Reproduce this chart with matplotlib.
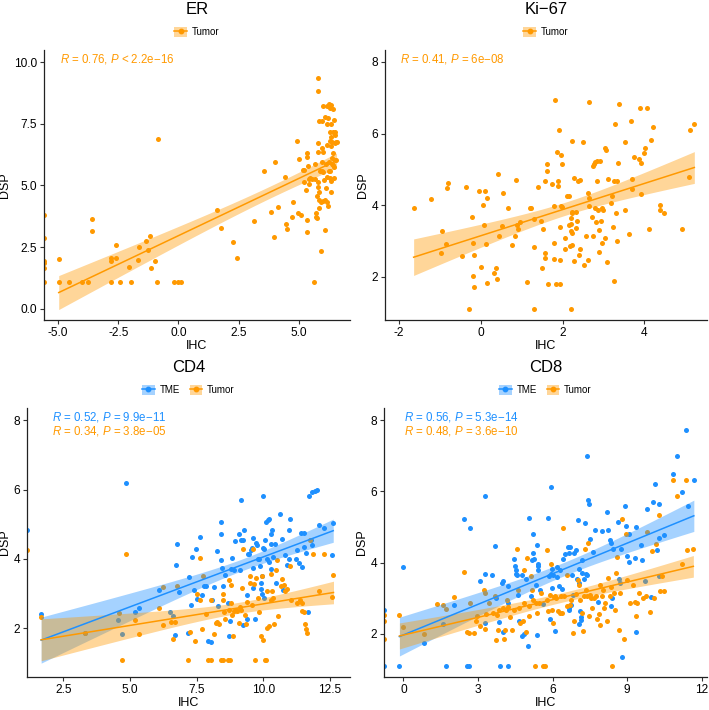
import numpy as np
import matplotlib as mpl
mpl.use('Agg')
import matplotlib.pyplot as plt
from matplotlib.patches import Patch
from matplotlib.lines import Line2D
from matplotlib.legend_handler import HandlerTuple

plt.rcParams['font.family'] = ['Liberation Sans', 'DejaVu Sans']
plt.rcParams['mathtext.fontset'] = 'custom'
plt.rcParams['mathtext.it'] = 'Liberation Sans:italic'
plt.rcParams['mathtext.rm'] = 'Liberation Sans'

ORANGE = '#FF9900'
BLUE = '#1E90FF'

# ---- ER (Tumor) ----
er_x = [-5.58, -5.58, -5.58, -5.58, -5.58, -5.58,
        -4.97, -4.97, -4.56, -4.00, -3.76, -3.58, -3.58, -2.79, -2.79, -2.79, -2.58, -2.58, -2.41, -2.07,
        -1.96, -1.68, -1.64, -1.35, -1.28, -1.17, -1.14, -0.98, -0.89, -0.85, -0.19, -0.01, 0.12, 1.60,
        1.75, 2.25, 2.44, 3.15, 3.55, 3.85, 3.96, 4.00, 4.11, 4.42, 4.46, 4.50, 4.71, 4.74, 4.90, 4.97,
        5.01, 5.07, 5.15, 5.22, 5.19, 5.28, 5.32, 5.32, 5.32, 5.35, 5.39, 5.40, 5.40, 5.46, 5.53, 5.62,
        5.65, 5.66, 5.72, 5.72, 5.74, 5.74, 5.77, 5.77, 5.79, 5.79, 5.79, 5.81, 5.83, 5.84, 5.84, 5.87,
        5.90, 5.91, 5.94, 5.94, 5.97, 5.98, 6.00, 6.01, 6.04, 6.07, 6.08, 6.09, 6.12, 6.12, 6.15, 6.16,
        6.16, 6.18, 6.18, 6.20, 6.22, 6.23, 6.24, 6.26, 6.27, 6.27, 6.28, 6.30, 6.31, 6.32, 6.32, 6.34,
        6.35, 6.35, 6.37, 6.38, 6.39, 6.41, 6.42, 6.42, 6.44, 6.45, 6.47, 6.48, 6.49, 6.49, 6.50, 6.52,
        6.53, 6.56, 5.94, 6.01, 5.84, 6.28, 6.42]
er_y = [3.81, 2.86, 1.94, 1.85, 1.67, 1.09,
        2.01, 1.09, 1.09, 1.09, 1.09, 3.66, 3.16, 2.05, 1.94, 1.09, 2.58, 2.05, 1.09, 1.70,
        1.09, 1.98, 2.50, 2.77, 2.40, 2.97, 1.67, 1.96, 1.09, 6.88, 1.09, 1.09, 1.09, 4.01,
        3.29, 2.71, 2.05, 3.56, 5.59, 3.91, 2.91, 5.94, 4.13, 5.33, 3.44, 3.25, 3.74, 4.35, 6.79, 3.87,
        6.09, 3.81, 5.63, 5.63, 5.13, 4.80, 6.30, 3.60, 3.10, 6.14, 5.79, 5.26, 5.05, 5.32, 5.25, 1.09,
        5.88, 5.25, 3.87, 3.74, 3.67, 4.57, 9.37, 8.83, 6.71, 6.34, 5.13, 4.95, 4.08, 7.61, 4.41, 5.60,
        2.36, 4.35, 7.61, 6.50, 5.59, 8.21, 4.37, 6.37, 5.22, 4.43, 7.79, 3.21, 4.91, 5.86, 6.64, 8.23,
        7.50, 4.32, 5.34, 4.17, 7.75, 5.96, 5.59, 8.30, 5.29, 6.81, 7.18, 8.15, 6.98, 7.48, 6.60, 4.75,
        8.26, 5.18, 6.10, 5.86, 6.77, 8.08, 6.30, 7.18, 5.32, 5.76, 7.65, 6.71, 6.03, 7.04, 7.18, 6.03,
        6.77, 6.77, 5.96, 5.56, 4.75, 5.59, 5.83]

# ---- Ki-67 (Tumor) ----
ki_x = [-1.64, -1.22, -0.95, -0.86, -0.97, -0.83, -0.81, -0.47, -0.36, -0.21, -0.18, -0.17, -0.18, -0.16,
        -0.29, -0.04, 0.00, 0.06, 0.07, 0.11, 0.13, 0.15, 0.16, 0.33, 0.37, 0.40, 0.42, 0.45, 0.52, 0.55,
        0.66, 0.77, 0.84, 0.87, 0.89, 0.90, 0.96, 1.13, 1.20, 1.22, 1.31, 1.31, 1.31, 1.39, 1.48, 1.49,
        1.51, 1.56, 1.57, 1.58, 1.61, 1.61, 1.64, 1.75, 1.80, 1.80, 1.80, 1.81, 1.84, 1.86, 1.88, 1.89,
        1.92, 1.93, 1.93, 1.94, 1.95, 1.96, 1.98, 1.99, 2.07, 2.07, 2.12, 2.16, 2.16, 2.18, 2.20, 2.20,
        2.21, 2.21, 2.22, 2.23, 2.23, 2.24, 2.24, 2.27, 2.29, 2.33, 2.34, 2.36, 2.37, 2.40, 2.42, 2.43,
        2.50, 2.53, 2.57, 2.61, 2.63, 2.65, 2.65, 2.65, 2.73, 2.75, 2.75, 2.78, 2.80, 2.80, 2.81, 2.84,
        2.85, 2.87, 2.89, 2.90, 2.91, 2.94, 2.96, 2.97, 2.99, 3.03, 3.04, 3.06, 3.08, 3.12, 3.18, 3.21,
        3.23, 3.25, 3.26, 3.27, 3.30, 3.32, 3.32, 3.36, 3.38, 3.53, 3.52, 3.62, 3.67, 3.70, 3.70, 3.74,
        3.87, 3.89, 3.91, 3.91, 3.99, 4.02, 4.07, 4.11, 4.16, 4.21, 4.38, 4.38, 4.47, 4.93, 5.09, 5.12,
        5.22]
ki_y = [3.91, 4.17, 3.27, 2.93, 2.67, 4.49, 4.63, 2.58, 4.52, 3.67, 2.96, 2.61, 2.04, 1.73,
        1.12, 4.40, 2.27, 4.01, 3.46, 4.39, 2.91, 1.84, 4.19, 2.12, 2.26, 1.93, 4.86, 3.14, 3.41, 4.33,
        3.91, 2.89, 3.14, 4.71, 3.45, 3.34, 3.53, 1.87, 3.92, 3.92, 2.83, 3.63, 1.12, 4.51, 3.57, 2.25,
        3.35, 2.68, 2.52, 4.69, 4.96, 5.16, 1.80, 4.59, 3.99, 2.94, 2.50, 6.93, 1.81, 5.48, 4.53, 4.68,
        6.11, 3.39, 2.47, 1.80, 3.97, 5.40, 3.94, 5.15, 3.10, 2.78, 4.26, 4.26, 3.45, 2.86, 3.29, 3.64,
        3.48, 1.12, 3.78, 3.82, 2.88, 5.79, 3.24, 2.45, 4.76, 3.82, 3.37, 3.57, 4.68, 2.60, 4.71, 2.79,
        5.77, 2.33, 3.13, 2.47, 4.33, 4.20, 3.97, 6.87, 3.66, 5.10, 3.13, 5.14, 3.91, 5.21, 3.53, 4.68,
        5.23, 3.87, 3.32, 2.70, 5.24, 3.56, 3.91, 2.95, 3.87, 3.08, 5.59, 5.53, 2.42, 4.73, 4.07, 4.27,
        3.40, 4.67, 1.90, 6.27, 3.77, 4.69, 2.99, 5.19, 6.83, 3.87, 5.76, 3.19, 6.35, 4.45, 4.73, 5.35,
        5.30, 6.72, 4.32, 5.19, 5.47, 5.61, 6.70, 3.35, 5.81, 6.17, 4.01, 3.88, 3.79, 3.35, 4.78, 6.10,
        6.27]

# ---- CD4 ----
cd4_tme_x = [1.14, 1.67, 3.31, 4.56, 4.71, 4.86, 5.17, 5.32, 6.09, 6.51, 6.63, 6.67, 6.74, 6.77, 6.83,
             7.19, 7.21, 7.27, 7.33, 7.41, 7.48, 7.50, 7.62, 7.69, 7.76, 7.85, 7.92, 8.02, 8.06, 8.15,
             8.27, 8.29, 8.40, 8.43, 8.43, 8.44, 8.47, 8.56, 8.66, 8.72, 8.74, 8.79, 8.83, 8.90, 8.94,
             9.08, 9.13, 9.15, 9.18, 9.22, 9.25, 9.27, 9.37, 9.40, 9.43, 9.46, 9.52, 9.57, 9.62, 9.62,
             9.63, 9.70, 9.73, 9.76, 9.81, 9.85, 9.88, 9.90, 9.93, 9.94, 9.94, 9.97, 9.99, 10.01, 10.03,
             10.08, 10.11, 10.14, 10.16, 10.20, 10.23, 10.28, 10.30, 10.30, 10.33, 10.37, 10.45, 10.47,
             10.61, 10.71, 10.72, 10.81, 10.87, 10.97, 10.97, 11.00, 11.22, 11.27, 11.35, 11.43, 11.46,
             11.51, 11.53, 11.59, 11.66, 11.73, 11.77, 11.83, 11.92, 12.00, 12.10, 12.26, 12.57, 12.62,
             11.82]
cd4_tme_y = [4.83, 2.41, 1.87, 2.25, 1.85, 6.18, 2.47, 2.58, 3.11, 2.46, 2.36, 1.82, 3.83, 4.44, 3.05,
             1.88, 3.47, 2.66, 4.07, 3.11, 4.29, 2.84, 4.63, 2.95, 3.21, 3.23, 1.65, 1.62, 2.83, 3.18,
             4.24, 2.64, 3.98, 5.06, 4.71, 3.73, 3.21, 3.55, 2.74, 1.77, 2.22, 3.72, 4.02, 3.67, 4.53,
             4.72, 3.67, 5.70, 4.56, 4.56, 2.09, 4.84, 2.95, 2.27, 4.14, 4.15, 4.26, 4.32, 3.16, 4.61,
             3.75, 2.27, 4.45, 4.40, 4.00, 4.00, 3.80, 3.31, 3.14, 3.50, 3.00, 5.81, 4.31, 2.88, 4.28,
             4.55, 5.07, 3.99, 5.11, 3.92, 5.15, 4.73, 4.44, 3.71, 4.84, 4.06, 4.43, 3.32,
             5.29, 4.57, 3.12, 4.12, 3.83, 3.99, 4.83, 5.15, 3.99, 4.26, 3.88, 4.75, 3.77,
             4.34, 4.76, 4.17, 2.47, 5.81, 4.56, 5.94, 5.97, 5.98, 4.98, 4.90, 4.10, 5.05,
             4.40]
cd4_tum_x = [1.14, 1.67, 3.31, 4.71, 4.86, 4.58, 5.18, 5.32, 6.09, 6.25, 6.25, 6.53, 6.63, 6.67, 6.78,
             7.19, 7.25, 7.45, 7.51, 7.63, 7.70, 7.74, 7.85, 7.92, 8.02, 8.03, 8.15, 8.21, 8.26, 8.34,
             8.41, 8.49, 8.47, 8.53, 8.58, 8.66, 8.70, 8.74, 8.79, 8.80, 8.84, 8.88, 8.90, 8.97, 9.03,
             9.08, 9.13, 9.16, 9.23, 9.30, 9.35, 9.40, 9.49, 9.51, 9.56, 9.60, 9.65, 9.67, 9.72, 9.80,
             9.85, 9.90, 9.96, 10.00, 10.05, 10.09, 10.13, 10.15, 10.20, 10.28, 10.30, 10.33, 10.37,
             10.40, 10.47, 10.54, 10.65, 10.71, 10.77, 10.81, 10.90, 11.01, 11.02, 11.26, 11.37, 11.44,
             11.51, 11.57, 11.60, 11.64, 11.75, 11.87, 12.10, 12.26, 12.57, 12.63, 11.45, 10.50, 9.20,
             8.70, 7.64, 8.47]
cd4_tum_y = [4.26, 2.32, 1.87, 1.09, 4.15, 2.43, 2.24, 1.85, 2.59, 3.20, 2.11, 2.19, 1.70, 2.18, 3.21,
             1.09, 1.91, 1.65, 2.98, 4.02, 1.99, 3.50, 2.42, 1.09, 1.09, 2.81, 1.85, 2.16, 2.19, 2.12,
             1.09, 1.09, 2.98, 2.46, 2.27, 1.09, 2.54, 1.09, 3.26, 2.74, 2.40, 1.79, 2.49, 2.52, 2.50,
             2.16, 2.61, 2.53, 4.28, 2.40, 2.14, 2.75, 3.32, 3.50, 2.66, 4.28, 3.27, 1.09, 3.46, 2.88,
             2.46, 1.77, 3.52, 1.66, 1.09, 1.09, 2.00, 3.07, 2.08, 3.57, 2.82, 3.07, 2.88,
             2.12, 3.69, 2.37, 3.21, 3.43, 3.24, 3.09, 3.13, 3.79, 2.83, 2.73, 2.82, 2.50,
             2.47, 2.12, 1.99, 1.88, 4.54, 4.14, 3.07, 4.14, 2.91, 3.55, 2.73, 3.96, 3.16,
             3.38, 2.81, 2.83]

# ---- CD8 ----
cd8_tme_x = [-0.78, -0.78, -0.16, -0.01, 0.82, 1.58, 1.72, 2.04, 2.57, 2.63, 2.45, 2.69, 3.07, 3.27, 3.30,
             3.28, 3.55, 3.69, 3.73, 3.88, 3.85, 3.97, 4.02, 4.00, 4.20, 4.22, 4.22, 4.44, 4.49, 4.52,
             4.53, 4.57, 4.61, 4.66, 4.75, 4.77, 4.85, 4.94, 5.01, 5.05, 5.13, 5.16, 5.20, 5.23, 5.27,
             5.34, 5.38, 5.40, 5.42, 5.39, 5.42, 5.48, 5.63, 5.82, 5.86, 5.88, 5.93, 5.94, 5.97, 5.98,
             6.02, 6.10, 6.17, 6.19, 6.26, 6.30, 6.36, 6.43, 6.50, 6.60, 6.64, 6.65, 6.66, 6.72, 6.74,
             6.80, 6.84, 6.86, 6.93, 6.97, 7.01, 7.06, 7.08, 7.13, 7.15, 7.17, 7.18, 7.28, 7.32, 7.36,
             7.37, 7.40, 7.44, 7.45, 7.51, 7.64, 7.69, 7.84, 7.99, 8.18, 8.24, 8.30, 8.35, 8.36, 8.38,
             8.41, 8.62, 8.66, 8.71, 8.74, 8.78, 8.93, 8.94, 8.98, 9.08, 9.09, 9.32, 9.34, 9.37, 9.56,
             9.58, 9.72, 9.80, 9.95, 10.04, 10.13, 10.20, 10.28, 10.27, 10.29, 10.50, 10.86, 10.99, 11.19,
             11.37, 11.45, 11.68, 7.08, 7.10]
cd8_tme_y = [2.66, 1.09, 1.09, 3.89, 1.73, 2.29, 1.09, 2.80, 1.09, 1.09, 5.21, 4.96, 3.48, 3.67, 5.86,
             2.31, 3.66, 4.48, 3.01, 1.09, 2.34, 3.44, 2.04, 3.48, 3.34, 1.09, 2.87, 4.11, 3.91, 3.68,
             3.78, 3.66, 3.09, 2.36, 1.95, 3.66, 1.99, 3.55, 1.65, 5.26, 3.05, 4.06, 4.79, 4.27, 4.09,
             3.38, 4.50, 3.90, 3.96, 1.96, 3.79, 3.24, 2.83, 5.25, 3.63, 2.43, 6.12, 3.67, 3.81, 3.28,
             3.65, 2.09, 3.87, 3.59, 3.35, 3.79, 3.27, 4.10, 4.25, 4.43, 2.72, 2.68, 4.26, 4.44, 2.81,
             3.66, 3.08, 4.27, 4.35, 3.55, 5.19, 3.81, 2.28, 2.48, 2.38, 4.08, 3.72, 3.55, 5.11, 3.69,
             6.98, 3.66, 5.75, 5.64, 4.65, 4.30, 4.92, 2.90, 4.89, 5.42, 4.92, 4.64, 4.55, 2.79, 3.00,
             4.39, 5.15, 3.54, 3.43, 4.38, 1.36, 5.60, 5.02, 4.18, 4.02, 4.79, 4.13, 2.04, 5.00, 4.50,
             4.07, 3.47, 5.50, 3.04, 5.69, 6.22, 4.35, 5.65, 4.69, 3.62, 4.78, 6.49, 6.98, 5.99,
             7.72, 5.58, 6.31, 3.42, 2.64]
cd8_tum_x = [-0.78, -0.78, -0.78, -0.16, -0.01, 0.82, 1.34, 1.61, 1.73, 2.04, 2.45, 2.57, 2.63, 2.69, 2.84,
             2.94, 2.98, 3.10, 3.26, 3.28, 3.30, 3.32, 3.46, 3.59, 3.69, 3.71, 3.75, 3.81, 3.86, 4.00,
             4.03, 4.08, 4.13, 4.18, 4.22, 4.29, 4.38, 4.45, 4.56, 4.60, 4.64, 4.69, 4.79, 4.84, 4.85,
             4.92, 4.99, 5.04, 5.07, 5.13, 5.19, 5.23, 5.29, 5.32, 5.36, 5.47, 5.54, 5.63, 5.70, 5.76,
             5.79, 5.83, 5.90, 5.94, 5.98, 6.01, 6.05, 6.09, 6.14, 6.23, 6.30, 6.34, 6.38, 6.43, 6.46,
             6.58, 6.69, 6.74, 6.82, 6.88, 6.96, 7.01, 7.06, 7.12, 7.18, 7.23, 7.25, 7.31, 7.33, 7.37,
             7.44, 7.47, 7.51, 7.55, 7.60, 7.65, 7.73, 7.80, 7.86, 7.91, 7.98, 8.04, 8.08, 8.12, 8.19,
             8.24, 8.30, 8.34, 8.40, 8.45, 8.50, 8.54, 8.60, 8.66, 8.71, 8.81, 8.86, 8.94, 9.01, 9.11,
             9.22, 9.32, 9.38, 9.36, 9.49, 9.62, 9.75, 9.81, 9.92, 10.01, 10.08, 10.16, 10.28, 10.32,
             10.39, 10.50, 10.86, 11.01, 11.21, 11.37, 11.42, 11.66, 6.57, 7.91]
cd8_tum_y = [2.52, 2.36, 1.87, 2.52, 2.20, 2.01, 2.84, 2.81, 2.71, 3.04, 3.74, 2.05, 2.02, 2.87, 2.03,
             2.36, 2.50, 2.21, 3.24, 3.15, 2.15, 2.57, 2.87, 2.59, 3.06, 1.82, 2.54, 2.12, 2.68, 2.74,
             1.87, 2.12, 2.68, 2.96, 2.76, 2.48, 2.12, 2.66, 4.39, 3.22, 2.73, 2.31, 2.36, 2.87, 3.78,
             2.06, 4.13, 2.78, 2.50, 3.62, 3.24, 2.96, 1.09, 2.87, 2.59, 2.87, 3.15, 1.09, 1.09, 2.94,
             4.36, 2.64, 3.10, 3.95, 2.68, 2.31, 3.03, 3.07, 3.01, 2.64, 2.59, 3.06, 2.59, 4.96, 3.05,
             3.64, 2.81, 2.95, 2.03, 2.37, 3.11, 3.51, 3.36, 2.96, 2.59, 2.07, 3.07, 4.38, 3.24, 3.06,
             4.55, 2.51, 3.10, 3.01, 2.73, 3.01, 3.07, 2.42, 2.57, 2.25, 3.07, 3.24, 2.73, 2.87, 2.36,
             3.57, 3.07, 3.31, 1.09, 3.15, 2.68, 3.71, 4.15, 2.12, 3.15, 5.22, 1.86, 4.81, 3.50, 2.87,
             3.38, 2.90, 2.87, 2.49, 3.15, 3.01, 3.06, 4.85, 2.61, 4.32, 3.02, 4.52, 5.35, 3.20,
             3.62, 3.20, 6.33, 5.86, 3.97, 6.33, 4.35, 4.39, 2.78, 3.38]

T_CRIT = 1.98  # ~t(0.975) for n around 100-150


def add_fit(ax, x, y, color, xlo):
    x = np.asarray(x)
    y = np.asarray(y)
    m = x > xlo + 0.01  # points pinned at the left edge are not in the fit
    x, y = x[m], y[m]
    n = len(x)
    b, a = np.polyfit(x, y, 1)
    res = y - (a + b * x)
    s = np.sqrt(np.sum(res ** 2) / (n - 2))
    xbar = x.mean()
    sxx = np.sum((x - xbar) ** 2)
    xs = np.linspace(x.min(), x.max(), 80)
    yh = a + b * xs
    se = s * np.sqrt(1.0 / n + (xs - xbar) ** 2 / sxx)
    ax.fill_between(xs, yh - T_CRIT * se, yh + T_CRIT * se, color=color, alpha=0.4, lw=0, zorder=3)
    ax.plot(xs, yh, color=color, lw=1.1, zorder=4)


def style(ax, xlim, ylim, xticks, yticks, xfmt, yfmt):
    ax.set_xlim(xlim)
    ax.set_ylim(ylim)
    ax.set_xticks(xticks)
    ax.set_yticks(yticks)
    ax.set_xticklabels([xfmt.format(v) for v in xticks])
    ax.set_yticklabels([yfmt.format(v) for v in yticks])
    for sp in ['top', 'right']:
        ax.spines[sp].set_visible(False)
    for sp in ['left', 'bottom']:
        ax.spines[sp].set_linewidth(0.9)
        ax.spines[sp].set_color('#222222')
    ax.tick_params(length=3, width=0.8, labelsize=8.6, color='#333333', labelcolor='black', pad=2)
    ax.set_xlabel('IHC', fontsize=9, labelpad=1)
    ax.set_ylabel('DSP', fontsize=9, labelpad=2)


def legend_handle(color):
    return (Patch(facecolor=color, alpha=0.4, edgecolor='none'),
            Line2D([], [], color=color, lw=1.1, marker='o', markersize=3.2))


fig = plt.figure(figsize=(7.09, 7.10), dpi=100)

panels = [
    # title, rect, series, xlim, ylim, xticks, yticks, fmt, labels
    ('ER', [0.0621, 0.5493, 0.4316, 0.3803],
     [(er_x, er_y, ORANGE)], (-5.58, 7.12), (-0.45, 10.49),
     [-5, -2.5, 0, 2.5, 5], [0, 2.5, 5, 7.5, 10], '{:.1f}', '{:.1f}',
     [('$\\it{R}$ = 0.76, $\\it{P}$ < 2.2e\u221216', ORANGE)], 0.052, ['Tumor']),
    ('Ki\u221267', [0.5430, 0.5493, 0.4542, 0.3803],
     [(ki_x, ki_y, ORANGE)], (-2.34, 5.53), (0.8, 8.33),
     [-2, 0, 2, 4], [2, 4, 6, 8], '{:.0f}', '{:.0f}',
     [('$\\it{R}$ = 0.41, $\\it{P}$ = 6e\u221208', ORANGE)], 0.047, ['Tumor']),
    ('CD4', [0.0381, 0.0465, 0.4556, 0.3789],
     [(cd4_tme_x, cd4_tme_y, BLUE), (cd4_tum_x, cd4_tum_y, ORANGE)], (1.14, 13.25), (0.6, 8.35),
     [2.5, 5, 7.5, 10, 12.5], [2, 4, 6, 8], '{:.1f}', '{:.0f}',
     [('$\\it{R}$ = 0.52, $\\it{P}$ = 9.9e\u221211', BLUE),
      ('$\\it{R}$ = 0.34, $\\it{P}$ = 3.8e\u221205', ORANGE)], 0.077, ['TME', 'Tumor']),
    ('CD8', [0.5416, 0.0465, 0.4556, 0.3789],
     [(cd8_tme_x, cd8_tme_y, BLUE), (cd8_tum_x, cd8_tum_y, ORANGE)], (-0.78, 12.21), (0.79, 8.34),
     [0, 3, 6, 9, 12], [2, 4, 6, 8], '{:.0f}', '{:.0f}',
     [('$\\it{R}$ = 0.56, $\\it{P}$ = 5.3e\u221214', BLUE),
      ('$\\it{R}$ = 0.48, $\\it{P}$ = 3.6e\u221210', ORANGE)], 0.062, ['TME', 'Tumor']),
]

for title, rect, series, xlim, ylim, xt, yt, xf, yf, notes, note_x, labels in panels:
    ax = fig.add_axes(rect)
    for x, y, c in series:
        ax.scatter(x, y, s=13, color=c, lw=0, zorder=2)
    for x, y, c in series:
        add_fit(ax, x, y, c, xlim[0])
    style(ax, xlim, ylim, xt, yt, xf, yf)

    ytxt = 0.968
    for txt, c in notes:
        ax.text(note_x, ytxt, txt, transform=ax.transAxes, color=c, fontsize=8.3,
                ha='left', va='center')
        ytxt -= 0.052

    cx = rect[0] + rect[2] / 2
    top = rect[1] + rect[3]
    fig.text(cx, top + 0.057, title, ha='center', va='center', fontsize=12)
    handles = [legend_handle(c) for _, _, c in series]
    fig.legend(handles, labels, loc='center', bbox_to_anchor=(cx, top + 0.025),
               ncol=len(labels), frameon=False, fontsize=7, handlelength=1.3, handleheight=1.2,
               handletextpad=0.5, columnspacing=1.0,
               handler_map={tuple: HandlerTuple(ndivide=1)})

fig.savefig('out.png', dpi=100)
